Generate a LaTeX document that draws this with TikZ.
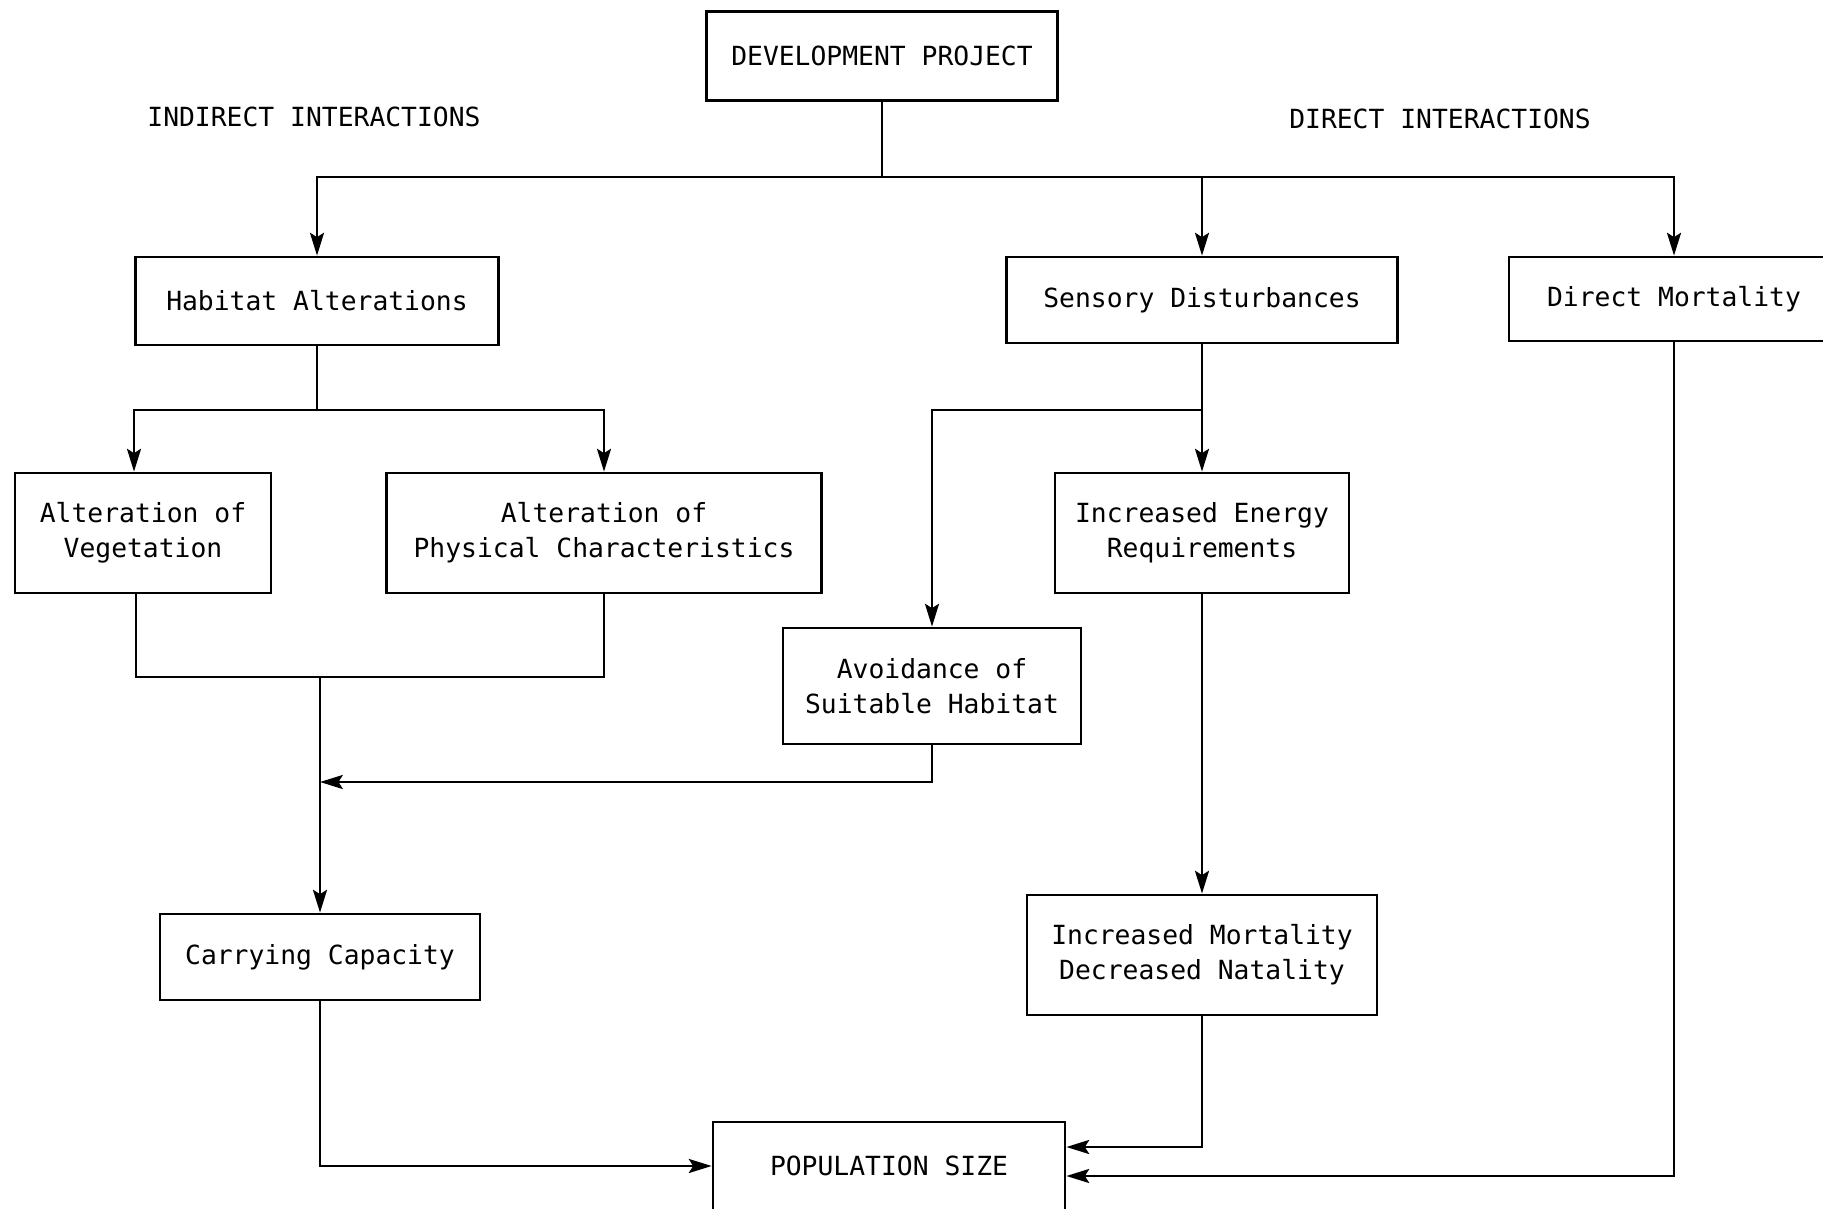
\documentclass[tikz,border=0pt]{standalone}
\usepackage{fontspec}
\setmonofont{DejaVu Sans Mono}
\usetikzlibrary{arrows.meta}

\begin{document}
\begin{tikzpicture}[
    x=0.02cm, y=-0.02cm,
    every node/.style={font=\ttfamily\fontsize{15}{20}\selectfont},
    box/.style={draw, rectangle, line width=1.6pt, align=center, inner sep=0pt},
    heading/.style={draw=none, inner sep=0pt},
    line/.style={draw, line width=1.4pt},
    link/.style={draw, line width=1.4pt, -{Stealth[length=13pt,width=8pt,inset=2.5pt]}},
  ]
  \useasboundingbox (0,0) rectangle (1823,1209);

  % boxes
  \node[box, minimum width=7.02cm, minimum height=1.78cm] (dev) at (882,56) {DEVELOPMENT PROJECT};
  \node[heading] (indirect) at (314,117) {INDIRECT INTERACTIONS};
  \node[heading] (direct) at (1440,119) {DIRECT INTERACTIONS};

  \node[box, minimum width=7.26cm, minimum height=1.76cm] (hab) at (317,301) {Habitat Alterations};
  \node[box, minimum width=7.82cm, minimum height=1.72cm] (sens) at (1202,300) {Sensory Disturbances};
  \node[box, minimum width=6.6cm, minimum height=1.68cm] (mort) at (1674,299) {Direct Mortality};

  \node[box, minimum width=5.12cm, minimum height=2.4cm] (veg) at (143,533) {Alteration of\\Vegetation};
  \node[box, minimum width=8.7cm, minimum height=2.4cm] (phys) at (604,533) {Alteration of\\Physical Characteristics};
  \node[box, minimum width=5.88cm, minimum height=2.4cm] (energy) at (1202,533) {Increased Energy\\Requirements};
  \node[box, minimum width=5.96cm, minimum height=2.32cm] (avoid) at (932,686) {Avoidance of\\Suitable Habitat};

  \node[box, minimum width=6.4cm, minimum height=1.72cm] (carry) at (320,957) {Carrying Capacity};
  \node[box, minimum width=7.0cm, minimum height=2.4cm] (natal) at (1202,955) {Increased Mortality\\Decreased Natality};
  \node[box, minimum width=7.04cm, minimum height=1.76cm] (pop) at (889,1166) {POPULATION SIZE};

  % junctions
  \coordinate (topbar) at (882,177);
  \coordinate (habbar) at (317,410);
  \coordinate (sensbar) at (1202,410);
  \coordinate (merge) at (320,677);
  \coordinate (avoidjoin) at (320,782);

  % connectors
  \draw[line] (dev) -- (topbar);
  \draw[link] (topbar) -| (hab);
  \draw[link] (topbar) -| (sens);
  \draw[link] (topbar) -| (mort);

  \draw[line] (hab) -- (habbar);
  \draw[link] (habbar) -| ([xshift=-0.18cm]veg.north);
  \draw[link] (habbar) -| (phys);

  \draw[link] (sens) -- (energy);
  \draw[link] (sensbar) -| (avoid);

  \draw[line] ([xshift=-0.14cm]veg.south) |- (merge) -| (phys);
  \draw[link] (merge) -- (carry);
  \draw[link] (avoid) |- (avoidjoin);

  \draw[link] (energy) -- (natal);
  \draw[link] (carry) |- (pop);
  \draw[link] (natal) |- ([yshift=0.38cm]pop.east);
  \draw[link] (mort) |- ([yshift=-0.2cm]pop.east);
\end{tikzpicture}
\end{document}
